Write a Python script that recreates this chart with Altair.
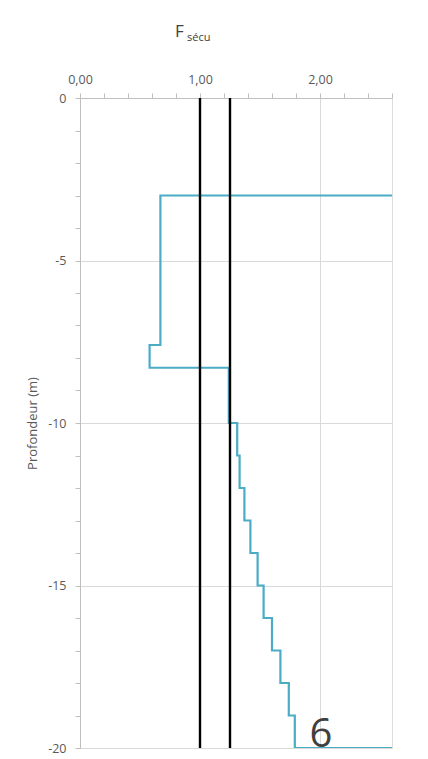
import altair as alt
import pandas as pd

# Layer boundaries (depth, m) and safety factor values per layer
depth_bounds = [0, -3, -7.6, -8.3, -10, -11, -12, -13, -14, -15, -16, -17, -18, -19, -20]
fs_values = [2.9, 0.67, 0.58, 1.24, 1.31, 1.33, 1.37, 1.42, 1.48, 1.53, 1.60, 1.67, 1.74, 1.79]
fs_below = 2.9
ref_lines = [1.0, 1.25]

x_ticks = [round(i * 0.2, 1) for i in range(14)]
y_ticks = list(range(-20, 1))

rows = []
k = 0
for i, v in enumerate(fs_values):
    rows.append({"fs": v, "depth": depth_bounds[i], "o": k}); k += 1
    rows.append({"fs": v, "depth": depth_bounds[i + 1], "o": k}); k += 1
rows.append({"fs": fs_below, "depth": depth_bounds[-1], "o": k})
step_df = pd.DataFrame(rows)
ref_df = pd.DataFrame({"fs": ref_lines})

FONT = "Open Sans"
GREY = "#595959"

xscale = alt.Scale(domain=[0, 2.6], nice=False, zero=False)
yscale = alt.Scale(domain=[-20, 0], nice=False)

INT_TEST = "abs(datum.value * 5 - 5 * round(datum.value)) < 0.01"
xaxis = alt.Axis(
    orient="top", values=x_ticks, title=None,
    labelExpr="(" + INT_TEST + ") ? replace(format(round(datum.value), '.2f'), '.', ',') : ''",
    labelFont=FONT, labelFontSize=12.5, labelColor=GREY, labelPadding=7,
    labelOverlap=False, labelFlush=False, labelBound=False,
    tickSize=5, tickColor="#bfbfbf", domainColor="#bfbfbf",
    grid=True, gridColor="#d9d9d9",
    gridOpacity={"condition": {"test": INT_TEST, "value": 1}, "value": 0},
)
yaxis = alt.Axis(
    values=y_ticks, title="Profondeur (m)",
    labelExpr="datum.value % 5 === 0 ? '' + datum.value : ''",
    labelFont=FONT, labelFontSize=12.5, labelColor=GREY, labelPadding=9,
    labelOverlap=False, labelFlush=False,
    titleFont=FONT, titleFontSize=13, titleColor=GREY, titleFontWeight="normal", titlePadding=8,
    tickSize=5, tickColor="#bfbfbf", domainColor="#bfbfbf",
    grid=True, gridColor="#d9d9d9",
    gridOpacity={"condition": {"test": "datum.value % 5 === 0", "value": 1}, "value": 0},
)

step = alt.Chart(step_df).mark_line(color="#4BACC6", strokeWidth=2.2, clip=True).encode(
    x=alt.X("fs:Q", scale=xscale, axis=xaxis),
    y=alt.Y("depth:Q", scale=yscale, axis=yaxis),
    order="o:Q",
)

rules = alt.Chart(ref_df).mark_rule(color="black", strokeWidth=2.4).encode(
    x=alt.X("fs:Q", scale=xscale, axis=xaxis),
)

title_f = alt.Chart(pd.DataFrame({"t": ["F"]})).mark_text(
    font=FONT, fontSize=17, color="#404040", align="left", baseline="alphabetic"
).encode(text="t:N", x=alt.value(95), y=alt.value(-61))
title_sub = alt.Chart(pd.DataFrame({"t": ["sécu"]})).mark_text(
    font=FONT, fontSize=11, color="#404040", align="left", baseline="alphabetic"
).encode(text="t:N", x=alt.value(107), y=alt.value(-57))
big6 = alt.Chart(pd.DataFrame({"t": ["6"]})).mark_text(
    font=FONT, fontSize=40, color="#404040", align="center", baseline="alphabetic"
).encode(text="t:N", x=alt.value(241), y=alt.value(649))

chart = alt.layer(step, rules, title_f, title_sub, big6).properties(
    width=312, height=650,
    autosize=alt.AutoSizeParams(type="none"),
    padding={"left": 72, "top": 90, "right": 20, "bottom": 11},
).configure_view(stroke=None).configure(background="white")

chart.save("out.html", embed_options={"renderer": "svg", "actions": False})
